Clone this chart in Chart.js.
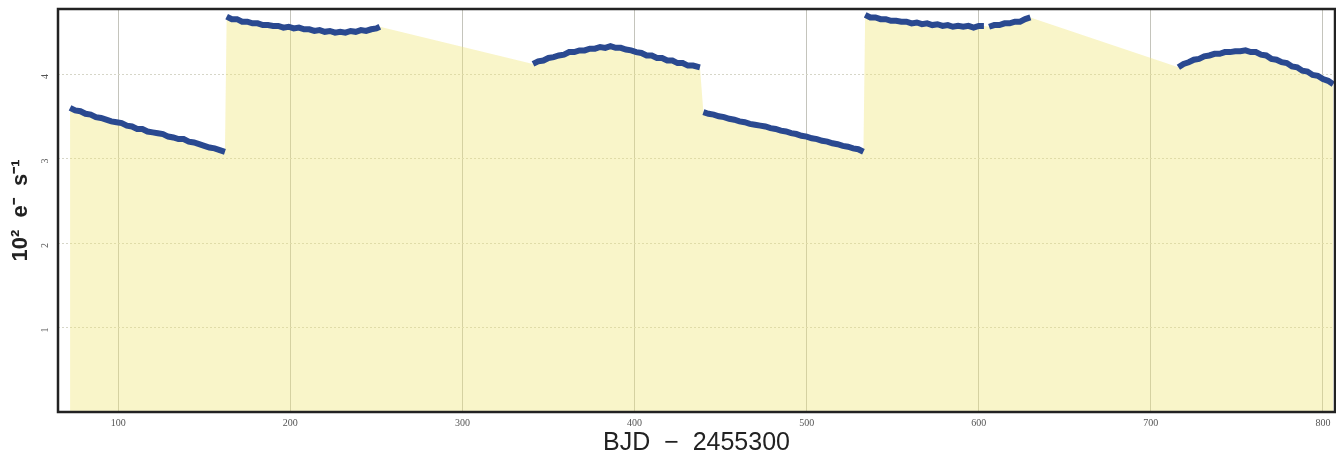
<!DOCTYPE html>
<html>
<head>
<meta charset="utf-8">
<title>Light curve</title>
<script src="https://cdn.jsdelivr.net/npm/chart.js@4/dist/chart.umd.min.js"></script>
<style>
  html, body { margin: 0; padding: 0; background: #fff; }
  #wrap { width: 1336px; height: 460px; position: relative; }
</style>
</head>
<body>
<div id="wrap"><canvas id="lightCurve"></canvas></div>
<script>
// Flux per quarter, in 10^2 e-/s, against BJD - 2455300
const days1 = [72, 75, 78, 81, 84, 87, 90, 93, 96, 99, 102, 105, 108, 111, 114, 117, 120, 123, 126, 129, 132, 135, 138, 141, 144, 147, 150, 153, 156, 159, 162];
const flux1 = [3.60, 3.57, 3.56, 3.53, 3.52, 3.49, 3.48, 3.46, 3.44, 3.43, 3.42, 3.39, 3.38, 3.35, 3.35, 3.32, 3.31, 3.30, 3.29, 3.26, 3.25, 3.23, 3.23, 3.20, 3.19, 3.17, 3.15, 3.13, 3.12, 3.10, 3.08];

const days2 = [163, 166, 169, 172, 175, 178, 181, 184, 187, 190, 193, 196, 199, 202, 205, 208, 211, 214, 217, 220, 223, 226, 229, 232, 235, 238, 241, 244, 247, 250, 252];
const flux2 = [4.68, 4.65, 4.65, 4.62, 4.62, 4.60, 4.60, 4.58, 4.58, 4.57, 4.57, 4.55, 4.56, 4.54, 4.55, 4.53, 4.53, 4.51, 4.52, 4.50, 4.51, 4.49, 4.50, 4.49, 4.51, 4.50, 4.52, 4.51, 4.53, 4.54, 4.56];

const days3 = [341, 344, 347, 350, 353, 356, 359, 362, 365, 368, 371, 374, 377, 380, 383, 386, 389, 392, 395, 398, 401, 404, 407, 410, 413, 416, 419, 422, 425, 428, 431, 434, 438];
const flux3 = [4.12, 4.15, 4.16, 4.19, 4.20, 4.22, 4.23, 4.26, 4.26, 4.28, 4.28, 4.30, 4.30, 4.32, 4.31, 4.33, 4.31, 4.31, 4.29, 4.28, 4.26, 4.25, 4.22, 4.22, 4.19, 4.19, 4.16, 4.16, 4.13, 4.13, 4.10, 4.10, 4.08];

const days4 = [440, 443, 446, 449, 452, 455, 458, 461, 464, 467, 470, 473, 476, 479, 482, 485, 488, 491, 494, 497, 500, 503, 506, 509, 512, 515, 518, 521, 524, 527, 530, 533];
const flux4 = [3.55, 3.53, 3.52, 3.50, 3.49, 3.47, 3.46, 3.44, 3.43, 3.41, 3.40, 3.39, 3.38, 3.36, 3.35, 3.33, 3.32, 3.30, 3.29, 3.27, 3.26, 3.24, 3.23, 3.21, 3.20, 3.18, 3.17, 3.15, 3.14, 3.12, 3.11, 3.08];

const days5a = [534, 537, 540, 543, 546, 549, 552, 555, 558, 561, 564, 567, 570, 573, 576, 579, 582, 585, 588, 591, 594, 597, 600, 603];
const flux5a = [4.70, 4.67, 4.67, 4.65, 4.65, 4.63, 4.63, 4.62, 4.62, 4.60, 4.61, 4.59, 4.60, 4.58, 4.59, 4.57, 4.58, 4.56, 4.57, 4.56, 4.57, 4.55, 4.57, 4.57];

const days5b = [606, 609, 612, 615, 618, 621, 624, 627, 630];
const flux5b = [4.56, 4.58, 4.58, 4.60, 4.60, 4.62, 4.62, 4.65, 4.67];

const days6 = [716, 719, 722, 725, 728, 731, 734, 737, 740, 743, 746, 749, 752, 755, 758, 761, 764, 767, 770, 773, 776, 779, 782, 785, 788, 791, 794, 797, 800, 803, 806];
const flux6 = [4.08, 4.12, 4.14, 4.17, 4.18, 4.21, 4.22, 4.24, 4.24, 4.26, 4.26, 4.27, 4.27, 4.28, 4.26, 4.26, 4.23, 4.22, 4.18, 4.17, 4.14, 4.13, 4.09, 4.08, 4.04, 4.03, 3.99, 3.98, 3.94, 3.92, 3.88];

const xTicks = [100, 200, 300, 400, 500, 600, 700, 800];
const yTicks = [1, 2, 3, 4];

const segments = [
  [days1, flux1], [days2, flux2], [days3, flux3],
  [days4, flux4], [days5a, flux5a], [days5b, flux5b], [days6, flux6],
];

// blue line breaks between segments, the shaded area runs straight across
const linePoints = [];
const areaPoints = [];
segments.forEach(([days, flux], i) => {
  days.forEach((d, j) => {
    linePoints.push({ x: d, y: flux[j] });
    areaPoints.push({ x: d, y: flux[j] });
  });
  if (i < segments.length - 1) {
    const next = segments[i + 1][0][0];
    linePoints.push({ x: (days[days.length - 1] + next) / 2, y: null });
  }
});

const frameBox = {
  id: 'frameBox',
  afterDraw(chart) {
    const { ctx, chartArea } = chart;
    ctx.save();
    ctx.strokeStyle = '#222';
    ctx.lineWidth = 2.5;
    ctx.strokeRect(chartArea.left, chartArea.top, chartArea.right - chartArea.left, chartArea.bottom - chartArea.top);
    ctx.restore();
  },
};

new Chart(document.getElementById('lightCurve'), {
  type: 'line',
  data: {
    datasets: [
      {
        data: linePoints,
        borderColor: '#2a4990',
        borderWidth: 6,
        pointRadius: 0,
        spanGaps: false,
        tension: 0,
        fill: false,
        order: 0,
      },
      {
        data: areaPoints,
        borderWidth: 0,
        borderColor: 'rgba(0,0,0,0)',
        backgroundColor: 'rgba(240, 230, 120, 0.4)',
        pointRadius: 0,
        tension: 0,
        fill: 'origin',
        order: 1,
      },
    ],
  },
  options: {
    responsive: true,
    maintainAspectRatio: false,
    animation: false,
    layout: { padding: { top: 9, right: 1, left: 0, bottom: 0 } },
    plugins: {
      legend: { display: false },
      tooltip: { enabled: false },
    },
    scales: {
      x: {
        type: 'linear',
        min: 65,
        max: 807,
        afterBuildTicks: (scale) => { scale.ticks = xTicks.map((v) => ({ value: v })); },
        afterFit: (scale) => { scale.height = 48; },
        grid: { color: '#c4c4bc', lineWidth: 1, drawTicks: false },
        border: { display: false },
        ticks: {
          color: '#555',
          padding: 5,
          maxRotation: 0,
          font: { family: 'Liberation Serif', size: 10 },
        },
        title: {
          display: true,
          text: 'BJD  −  2455300',
          color: '#222',
          font: { family: 'Liberation Sans', size: 25 },
          padding: { top: 0, bottom: 2 },
        },
      },
      y: {
        type: 'linear',
        min: 0,
        max: 4.77,
        afterBuildTicks: (scale) => { scale.ticks = yTicks.map((v) => ({ value: v })); },
        afterFit: (scale) => {
          scale.width = 58;
          scale.paddingTop = 0;
          scale.paddingBottom = 0;
        },
        grid: { color: '#d6d6c8', lineWidth: 1, drawTicks: false },
        border: { display: false, dash: [2, 2] },
        ticks: {
          color: '#555',
          padding: 13,
          minRotation: 90,
          maxRotation: 90,
          font: { family: 'Liberation Serif', size: 10 },
        },
        title: {
          display: true,
          text: '10²  e⁻  s⁻¹',
          color: '#222',
          font: { family: 'Liberation Sans', size: 22, weight: 'bold' },
          padding: { top: 8, bottom: 0 },
        },
      },
    },
  },
  plugins: [frameBox],
});
</script>
</body>
</html>
